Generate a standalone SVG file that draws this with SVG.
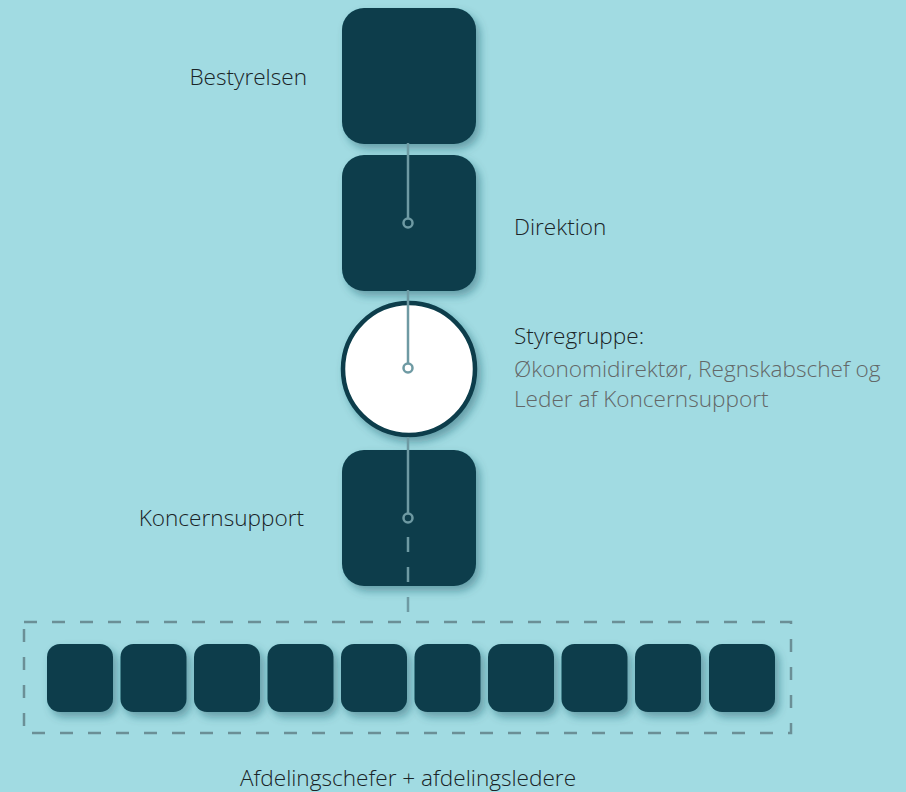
<svg xmlns="http://www.w3.org/2000/svg" width="906" height="792" viewBox="0 0 906 792">
<defs>
<filter id="sh" x="-20%" y="-20%" width="150%" height="150%">
<feDropShadow dx="4" dy="5" stdDeviation="4" flood-color="#1f5560" flood-opacity="0.45"/>
</filter>
</defs>
<style>
.box{fill:#0a3e4b;filter:url(#sh)}
.sm{fill:#0a3e4b;filter:url(#sh)}
.lbl{font-family:"Open Sans","Liberation Sans",sans-serif;font-weight:300;font-size:22.6px;fill:#1a2427}
.sub{fill:#636868}
.ln{stroke:#6e9aa3;stroke-width:2.5;fill:none}
.dot{fill:none;stroke:#6e9aa3;stroke-width:2.5}
</style>
<rect width="906" height="792" fill="#a1dbe2"/>
<g id="bestyrelsen"><rect class="box" x="342" y="8" width="134" height="136" rx="22"/><text class="lbl" x="307" y="85" text-anchor="end">Bestyrelsen</text></g>
<g id="direktion"><rect class="box" x="342" y="155" width="134" height="136" rx="22"/><text class="lbl" x="514" y="235">Direktion</text></g>
<g id="styregruppe"><circle cx="409" cy="369" r="66" fill="#fff" stroke="#0a3e4b" stroke-width="4.5" filter="url(#sh)"/><text class="lbl" x="514" y="344">Styregruppe:</text><text class="lbl sub" x="514" y="377">Økonomidirektør, Regnskabschef og</text><text class="lbl sub" x="514" y="407">Leder af Koncernsupport</text></g>
<g id="koncernsupport"><rect class="box" x="342" y="450" width="134" height="136" rx="22"/><text class="lbl" x="304" y="526" text-anchor="end">Koncernsupport</text></g>
<g id="afdelinger">
<rect x="24" y="622" width="767" height="111" fill="none" stroke="#6b8f96" stroke-width="2.5" stroke-dasharray="13 15"/>
<rect class="sm" x="47" y="644" width="66" height="68" rx="13"/>
<rect class="sm" x="120.5" y="644" width="66" height="68" rx="13"/>
<rect class="sm" x="194" y="644" width="66" height="68" rx="13"/>
<rect class="sm" x="267.5" y="644" width="66" height="68" rx="13"/>
<rect class="sm" x="341" y="644" width="66" height="68" rx="13"/>
<rect class="sm" x="414.5" y="644" width="66" height="68" rx="13"/>
<rect class="sm" x="488" y="644" width="66" height="68" rx="13"/>
<rect class="sm" x="561.5" y="644" width="66" height="68" rx="13"/>
<rect class="sm" x="635" y="644" width="66" height="68" rx="13"/>
<rect class="sm" x="709" y="644" width="66" height="68" rx="13"/>
<text class="lbl" x="408" y="786" text-anchor="middle">Afdelingschefer + afdelingsledere</text>
</g>
<g id="connectors">
<line class="ln" x1="408" y1="143" x2="408" y2="218"/>
<circle class="dot" cx="408" cy="223" r="4.5"/>
<line class="ln" x1="408" y1="290" x2="408" y2="364"/>
<circle class="dot" cx="408" cy="368" r="4.5"/>
<line class="ln" x1="408" y1="437" x2="408" y2="513"/>
<circle class="dot" cx="408" cy="518" r="4.5"/>
<line class="ln" x1="408" y1="537" x2="408" y2="612" stroke-dasharray="15 15"/>
</g>
</svg>
